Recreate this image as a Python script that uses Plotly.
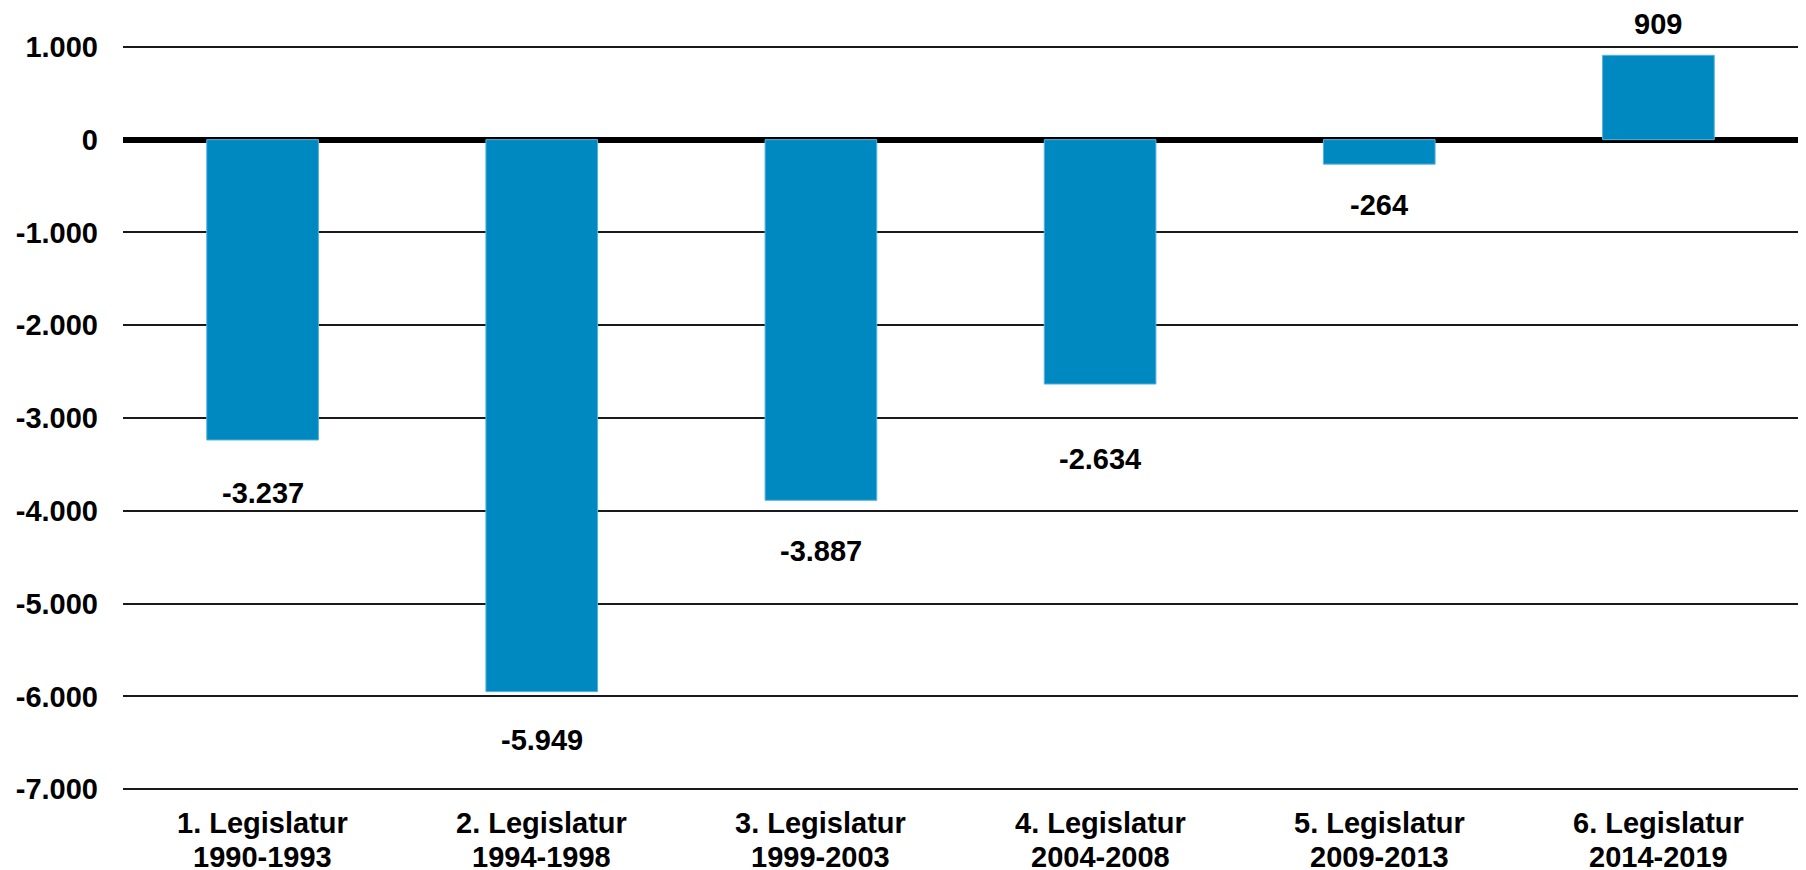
import plotly.graph_objects as go

categories = ["1. Legislatur<br>1990-1993", "2. Legislatur<br>1994-1998",
              "3. Legislatur<br>1999-2003", "4. Legislatur<br>2004-2008",
              "5. Legislatur<br>2009-2013", "6. Legislatur<br>2014-2019"]
values = [-3237, -5949, -3887, -2634, -264, 909]
value_labels = ["-3.237", "-5.949", "-3.887", "-2.634", "-264", "909"]
y_tickvals = [1000, 0, -1000, -2000, -3000, -4000, -5000, -6000, -7000]
y_ticktext = ["1.000", "0", "-1.000", "-2.000", "-3.000", "-4.000", "-5.000", "-6.000", "-7.000"]
# pixel offsets of the value labels from the bar ends (styling)
label_shift = [-53, -48, -50.5, -75, -40.5, 31.7]

FONT = "Liberation Sans, Arial, sans-serif"

fig = go.Figure()
fig.add_trace(go.Bar(
    x=categories, y=values, width=0.4,
    marker=dict(color="#0089C0", line=dict(color="#55B4DE", width=1)),
    hoverinfo="skip",
))

for c, v, t, s in zip(categories, values, value_labels, label_shift):
    fig.add_annotation(x=c, y=v, text=t, showarrow=False, yshift=s,
                       yanchor="middle", xanchor="center",
                       font=dict(family=FONT, size=29, color="black", weight="bold"))

# category labels, two lines each, with tight line spacing
for c in categories:
    for i, line in enumerate(c.split("<br>")):
        fig.add_annotation(x=c, xref="x", y=0, yref="paper", text=line,
                           showarrow=False, yanchor="middle", xanchor="center",
                           yshift=-32 - 34 * i,
                           font=dict(family=FONT, size=29, color="black", weight="bold"))

fig.update_layout(
    width=1798, height=862,
    margin=dict(l=115, r=8, t=37, b=79, autoexpand=False),
    paper_bgcolor="white", plot_bgcolor="white",
    showlegend=False,
    font=dict(family=FONT, color="black"),
)
fig.update_xaxes(
    showgrid=False, showline=False, ticks="", showticklabels=False,
    automargin=False,
)
fig.update_yaxes(
    range=[-7020, 1020], tickvals=y_tickvals, ticktext=y_ticktext,
    showgrid=True, gridcolor="#1a1a1a", gridwidth=2,
    zeroline=True, zerolinecolor="black", zerolinewidth=6,
    showline=False, ticks="", automargin=False,
    tickfont=dict(family=FONT, size=29, color="black", weight="bold"),
    ticklabelstandoff=24,
)

fig.write_html("out.html")
